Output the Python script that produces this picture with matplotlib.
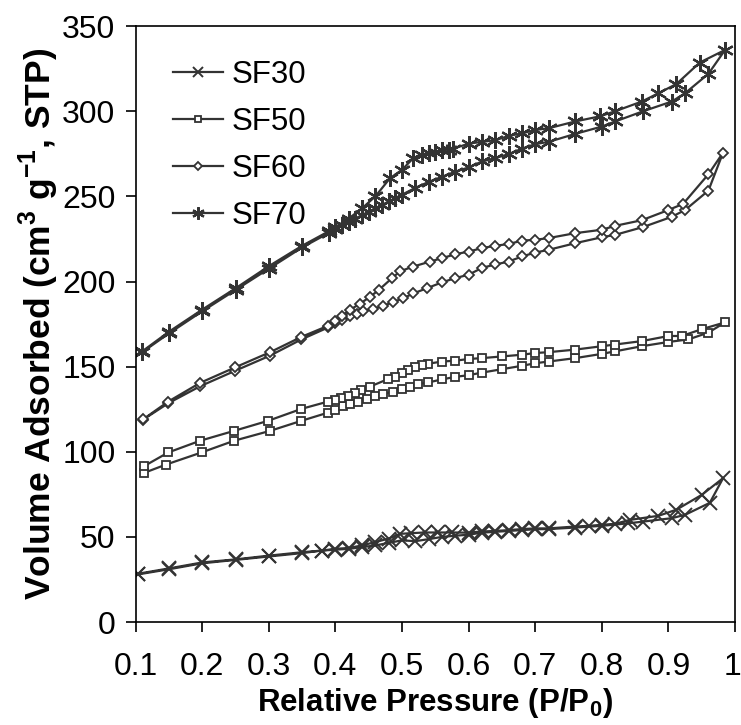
import numpy as np
import matplotlib
matplotlib.use("Agg")
import matplotlib.pyplot as plt
import matplotlib.transforms as mtransforms

plt.rcParams["font.family"] = ["Liberation Sans", "DejaVu Sans"]
plt.rcParams["mathtext.fontset"] = "custom"
plt.rcParams["mathtext.rm"] = "Liberation Sans"
plt.rcParams["mathtext.bf"] = "Liberation Sans:bold"

# SF30 isotherm (adsorption up, desorption back down)
sf30_ads_x = [0.104, 0.15, 0.2, 0.25, 0.3, 0.35, 0.38, 0.40, 0.42, 0.44, 0.46, 0.48, 0.50, 0.52, 0.54,
              0.56, 0.58, 0.60, 0.62, 0.64, 0.66, 0.68, 0.70, 0.72, 0.76, 0.80, 0.84, 0.862, 0.905,
              0.925, 0.962, 0.982]
sf30_ads_y = [28.0, 31.0, 34.5, 36.5, 38.5, 40.5, 42.0, 42.5, 43.0, 44.0, 45.0, 46.5, 48.0, 47.5, 48.7,
              50.0, 50.7, 51.3, 52.5, 53.0, 53.5, 54.0, 54.5, 54.6, 55.5, 56.5, 58.0, 59.0, 61.0,
              63.0, 70.0, 84.5]
sf30_des_x = [0.95, 0.912, 0.885, 0.842, 0.82, 0.80, 0.78, 0.76, 0.72, 0.70, 0.68, 0.66, 0.64, 0.62,
              0.60, 0.575, 0.554, 0.534, 0.514, 0.497, 0.48, 0.46, 0.44, 0.42, 0.40, 0.38, 0.35, 0.3,
              0.25, 0.2, 0.15, 0.104]
sf30_des_y = [74.7, 66.0, 62.4, 60.0, 57.7, 57.1, 56.5, 56.1, 55.0, 55.0, 54.6, 54.0, 53.5, 53.2,
              52.5, 52.6, 52.6, 52.6, 52.2, 51.8, 49.0, 47.0, 45.0, 43.5, 43.0, 42.0, 41.0, 39.0,
              36.8, 35.0, 31.5, 28.4]

# SF50
sf50_ads_x = [0.112, 0.145, 0.199, 0.248, 0.302, 0.349, 0.389, 0.399, 0.412, 0.422, 0.434, 0.447, 0.459,
              0.472, 0.487, 0.50, 0.512, 0.524, 0.539, 0.56, 0.58, 0.60, 0.62, 0.65, 0.68, 0.70, 0.72,
              0.76, 0.80, 0.82, 0.86, 0.90, 0.93, 0.96, 0.985]
sf50_ads_y = [87.5, 92.4, 99.6, 106.5, 112.3, 118.2, 123.0, 124.7, 126.6, 128.2, 129.5, 131.0, 132.5,
              134.0, 135.4, 136.8, 138.3, 139.7, 140.7, 142.5, 144.0, 145.0, 146.5, 148.5, 150.5, 152.0,
              153.0, 155.0, 157.5, 159.0, 162.0, 164.5, 166.0, 170.0, 176.0]
sf50_des_x = [0.95, 0.92, 0.90, 0.86, 0.82, 0.80, 0.76, 0.72, 0.70, 0.68, 0.65, 0.62, 0.60, 0.58, 0.56,
              0.539, 0.53, 0.519, 0.509, 0.50, 0.489, 0.479, 0.452, 0.439, 0.429, 0.419, 0.409, 0.399,
              0.389, 0.349, 0.299, 0.248, 0.197, 0.149, 0.112]
sf50_des_y = [172.0, 168.0, 168.0, 165.0, 163.0, 162.0, 160.0, 158.5, 158.0, 157.0, 156.0, 155.0, 154.5,
              153.5, 153.0, 151.7, 151.0, 150.0, 148.0, 146.0, 144.2, 142.7, 138.3, 136.0, 134.5, 132.9,
              131.5, 130.5, 129.5, 125.2, 118.2, 112.3, 106.5, 99.6, 91.4]

# SF60
sf60_ads_x = [0.111, 0.149, 0.197, 0.249, 0.302, 0.349, 0.389, 0.40, 0.41, 0.422, 0.432, 0.442, 0.457,
              0.472, 0.487, 0.502, 0.517, 0.537, 0.56, 0.58, 0.60, 0.62, 0.64, 0.66, 0.68, 0.70, 0.72,
              0.76, 0.80, 0.82, 0.862, 0.905, 0.925, 0.96, 0.982]
sf60_ads_y = [118.8, 128.5, 138.5, 147.5, 156.5, 166.0, 173.0, 175.5, 177.5, 179.5, 181.0, 182.4, 184.0,
              185.7, 188.0, 190.2, 193.0, 196.0, 199.5, 202.0, 204.0, 208.0, 210.0, 211.7, 214.7, 217.0,
              218.6, 222.5, 226.0, 227.4, 232.0, 238.0, 242.0, 253.4, 275.7]
sf60_des_x = [0.96, 0.922, 0.90, 0.86, 0.82, 0.80, 0.76, 0.72, 0.70, 0.68, 0.66, 0.64, 0.62, 0.60, 0.58,
              0.56, 0.542, 0.517, 0.497, 0.485, 0.465, 0.452, 0.437, 0.422, 0.41, 0.40, 0.389, 0.349,
              0.302, 0.249, 0.197, 0.149, 0.111]
sf60_des_y = [263.0, 245.6, 242.0, 236.0, 232.7, 230.4, 228.4, 225.5, 224.5, 224.0, 222.0, 221.0, 219.6,
              217.6, 216.0, 213.7, 211.7, 208.8, 206.0, 202.0, 195.0, 191.0, 187.0, 183.4, 180.0, 177.0,
              174.0, 167.5, 158.5, 149.5, 140.5, 129.5, 119.0]

# SF70
sf70_ads_x = [0.11, 0.15, 0.2, 0.25, 0.3, 0.35, 0.39, 0.40, 0.41, 0.42, 0.43, 0.44, 0.45, 0.46, 0.47,
              0.48, 0.49, 0.50, 0.52, 0.54, 0.56, 0.58, 0.60, 0.62, 0.64, 0.66, 0.68, 0.70, 0.72, 0.76,
              0.80, 0.82, 0.862, 0.905, 0.925, 0.96, 0.985]
sf70_ads_y = [158.5, 169.5, 182.5, 195.0, 207.5, 220.0, 228.5, 231.0, 233.0, 235.0, 237.0, 239.0, 241.0,
              243.0, 245.0, 247.0, 249.0, 251.0, 255.0, 258.5, 261.5, 264.5, 267.0, 270.5, 272.5, 274.8,
              278.0, 280.7, 282.0, 286.7, 291.0, 294.0, 300.0, 305.7, 310.6, 322.0, 336.0]
sf70_des_x = [0.947, 0.912, 0.885, 0.86, 0.82, 0.797, 0.76, 0.72, 0.70, 0.68, 0.66, 0.64, 0.62, 0.60,
              0.577, 0.57, 0.56, 0.55, 0.54, 0.53, 0.517, 0.50, 0.482, 0.46, 0.44, 0.42, 0.40, 0.39,
              0.35, 0.3, 0.25, 0.2, 0.15, 0.11]
sf70_des_y = [328.6, 316.0, 310.6, 305.7, 300.0, 297.0, 294.0, 290.0, 289.0, 287.0, 285.5, 283.0, 282.0,
              281.0, 278.0, 277.5, 277.0, 276.0, 275.5, 274.5, 272.5, 265.6, 260.7, 250.0, 243.0, 237.0,
              232.0, 229.5, 221.0, 209.0, 196.0, 183.5, 170.5, 159.0]

labels = ["SF30", "SF50", "SF60", "SF70"]
xtick_labels = ["0.1", "0.2", "0.3", "0.4", "0.5", "0.6", "0.7", "0.8", "0.9", "1"]

fig = plt.figure(figsize=(7.41, 7.25), dpi=100)
ax = fig.add_axes([0.183, 0.142, 0.809, 0.822])

col = "#333333"
series = [
    (sf30_ads_x + sf30_des_x, sf30_ads_y + sf30_des_y, dict(marker="x", ms=10, mew=1.4)),
    (sf50_ads_x + sf50_des_x, sf50_ads_y + sf50_des_y, dict(marker="s", ms=5.5, mew=1.3, mfc="white")),
    (sf60_ads_x + sf60_des_x, sf60_ads_y + sf60_des_y, dict(marker="D", ms=5.5, mew=1.3, mfc="white")),
    (sf70_ads_x + sf70_des_x, sf70_ads_y + sf70_des_y, dict(marker=(6, 2, 0), ms=12, mew=1.6)),
]
for (xs, ys, style), lab in zip(series, labels):
    ax.plot(xs, ys, color=col, lw=1.6, mec=col, label=lab, **style)

ax.set_xlim(0.1, 1.0)
ax.set_ylim(0, 350)
ax.set_xticks(np.arange(0.1, 1.01, 0.1))
ax.set_xticklabels(xtick_labels)
ax.set_yticks(np.arange(0, 351, 50))
ax.tick_params(direction="out", length=7.5, width=1.2, labelsize=23)
ax.tick_params(axis="x", pad=14)
ax.tick_params(axis="y", pad=7)
for s in ax.spines.values():
    s.set_linewidth(1.2)

# nudge the last x tick label so it stays inside the figure
last = ax.get_xticklabels()[-1]
last.set_transform(last.get_transform() + mtransforms.ScaledTranslation(-3 / 100, 0, fig.dpi_scale_trans))

ax.set_xlabel("Relative Pressure (P/P$_\\mathbf{0}$)", fontsize=22.5, fontweight="bold", labelpad=3)
ax.set_ylabel("Volume Adsorbed (cm$^\\mathbf{3}$ g$^\\mathbf{-1}$, STP)", fontsize=25.5,
              fontweight="bold", labelpad=1)

leg = ax.legend(loc="upper left", bbox_to_anchor=(0.015, 0.99), frameon=False, fontsize=22.5,
                handlelength=1.6, handletextpad=0.3, labelspacing=0.54, markerscale=0.75)

fig.savefig("out.png", dpi=100)
